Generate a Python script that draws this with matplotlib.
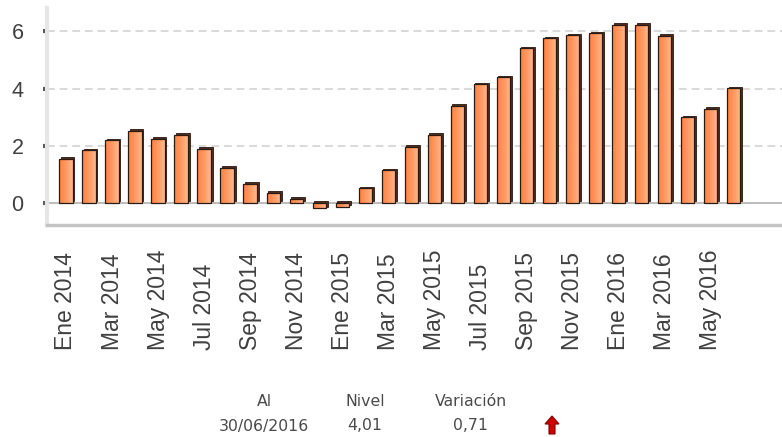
import numpy as np
import matplotlib
matplotlib.use('Agg')
import matplotlib.pyplot as plt
from matplotlib.patches import Rectangle, Polygon
from matplotlib.colors import LinearSegmentedColormap
import matplotlib.transforms as mtransforms

# Datos: inflación mensual (%), Ene 2014 - Jun 2016
meses = ['Ene', 'Feb', 'Mar', 'Abr', 'May', 'Jun',
         'Jul', 'Ago', 'Sep', 'Oct', 'Nov', 'Dic']
anios = [2014, 2015, 2016]
etiquetas = [f'{m} {a}' for a in anios for m in meses][:30]
valores = [1.54, 1.85, 2.20, 2.52, 2.24, 2.38, 1.89, 1.23, 0.67, 0.36, 0.15, -0.19,
           -0.13, 0.51, 1.15, 1.96, 2.39, 3.39, 4.15, 4.39, 5.41, 5.76, 5.87, 5.94,
           6.23, 6.23, 5.84, 3.00, 3.30, 4.01]
yticks = [0, 2, 4, 6]

# Resumen
cab = ['Al', 'Nivel', 'Variación']
fila = ['30/06/2016', '4,01', '0,71']

fig = plt.figure(figsize=(7.82, 4.37), dpi=100)
ax = fig.add_axes([47 / 782, (437 - 225) / 437, 1 - 47 / 782, 217 / 437])

x = np.arange(len(valores))
ancho = 0.58
dx, dy = 0.075, 0.055
cmap = LinearSegmentedColormap.from_list('nar', ['#ff7f40', '#ff9a62', '#ffb990'])
grad = np.linspace(0, 1, 64).reshape(1, -1)

# rejilla
for t in yticks[1:]:
    ax.axhline(t, color='#d9d9d9', lw=1.4, ls=(0, (4, 2.5)), zorder=0)
ax.axhline(0, color='#b0b0b0', lw=1.2, zorder=1)

for xi, v in zip(x, valores):
    x0 = xi - ancho / 2
    y0 = min(0, v)
    h = abs(v)
    sombra = Rectangle((x0 + dx, y0 + dy), ancho, h, facecolor='#4d2e1f',
                       edgecolor='#2a1810', lw=0.6, zorder=2)
    ax.add_patch(sombra)
    frente = Rectangle((x0, y0), ancho, h, facecolor='none',
                       edgecolor='#2a1a12', lw=0.9, zorder=4)
    ax.add_patch(frente)
    im = ax.imshow(grad, cmap=cmap, extent=[x0, x0 + ancho, y0, y0 + h],
                   aspect='auto', zorder=3, interpolation='bilinear')
    im.set_clip_path(frente)

ax.set_xlim(-0.825, 31.1)
ax.set_ylim(-0.77, 6.82)
ax.set_yticks(yticks)
ax.set_xticks([])
ax.tick_params(axis='y', length=3, width=3, color='#555555', pad=14,
               labelsize=15.5, labelcolor='#404040')
for lab in ax.get_yticklabels():
    lab.set_family('Liberation Sans')
for s in ['top', 'right']:
    ax.spines[s].set_visible(False)
ax.spines['left'].set_color('#e6e6e6')
ax.spines['left'].set_linewidth(3)
ax.spines['bottom'].set_color('#c4c4c4')
ax.spines['bottom'].set_linewidth(2.5)

# etiquetas del eje x (cada dos meses)
trans = mtransforms.blended_transform_factory(ax.transData, ax.transAxes)
for xi in x[::2]:
    ax.text(xi, -125 / 217, etiquetas[xi], rotation=90, ha='center', va='bottom',
            fontsize=16.5, color='#404040', family='Liberation Sans', transform=trans)

# tabla resumen
cols = [264 / 782, 365 / 782, 471 / 782]
for cx, c, f in zip(cols, cab, fila):
    fig.text(cx, 1 - 401 / 437, c, ha='center', va='center', fontsize=11.3, color='#4a4a4a')
    fig.text(cx, 1 - 426 / 437, f, ha='center', va='center', fontsize=11.3, color='#4a4a4a')

# flecha roja
ax_w, ax_h = 782, 437
cx, cy = 552, 425
pts = [(cx - 7, cy - 1), (cx, cy - 9), (cx + 7, cy - 1), (cx + 3, cy - 1),
       (cx + 3, cy + 9), (cx - 3, cy + 9), (cx - 3, cy - 1)]
pts = [(px / ax_w, 1 - py / ax_h) for px, py in pts]
fig.patches.append(Polygon(pts, closed=True, facecolor='#d00000', edgecolor='#800000',
                           lw=0.8, transform=fig.transFigure, figure=fig))

fig.savefig('out.png', dpi=100)
